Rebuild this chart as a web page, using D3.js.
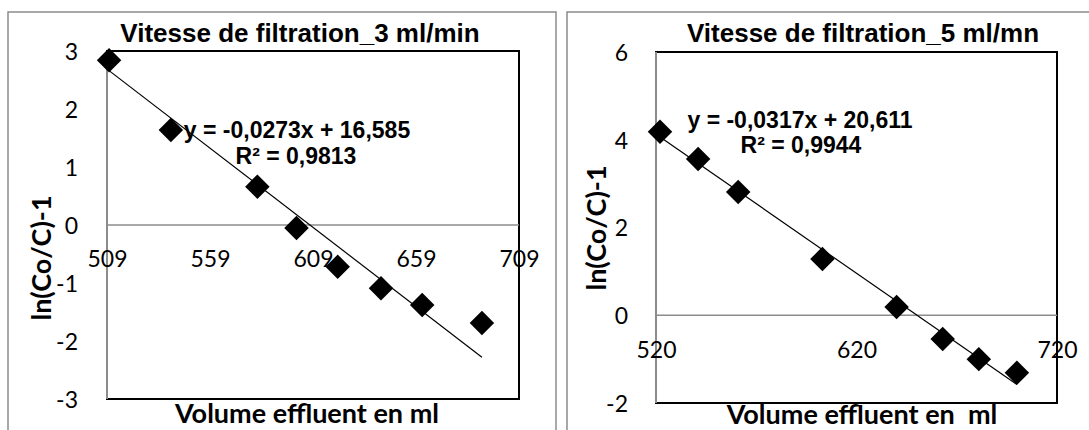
<!DOCTYPE html>
<html>
<head>
<meta charset="utf-8">
<script src="https://cdn.jsdelivr.net/npm/d3@7"></script>
<style>
  html, body { margin: 0; padding: 0; background: #fff; }
  svg { display: block; }
</style>
</head>
<body>
<svg id="chart" width="1089" height="430"></svg>
<script>
// Breakthrough data: volume of effluent (ml) vs ln(Co/C)-1
const volume3 = [510, 540, 582, 601, 621, 642, 662, 691];
const lnRatio3 = [2.84, 1.64, 0.66, -0.05, -0.72, -1.09, -1.38, -1.69];
const xTicks3 = [509, 559, 609, 659, 709];
const yTicks3 = [-3, -2, -1, 0, 1, 2, 3];
const fit3 = { slope: -0.0273, intercept: 16.585, r2: "0,9813" };

const volume5 = [522, 541, 561, 603, 640, 663, 681, 700];
const lnRatio5 = [4.18, 3.56, 2.81, 1.28, 0.19, -0.54, -1.0, -1.31];
const xTicks5 = [520, 620, 720];
const yTicks5 = [-2, 0, 2, 4, 6];
const fit5 = { slope: -0.0317, intercept: 20.611, r2: "0,9944" };

const titles = ["Vitesse de filtration_3 ml/min", "Vitesse de filtration_5 ml/mn"];
const xTitles = ["Volume effluent en ml", "Volume effluent en\u00a0 ml"];
const yTitle = "ln(Co/C)-1";

const svg = d3.select("#chart");
const tickFont = "Lato, 'Open Sans', sans-serif";
const boldFont = "'Liberation Sans', Arial, sans-serif";

function fmt(v, d) {
  return Math.abs(v).toFixed(d).replace(".", ",");
}

function drawChart(cfg) {
  const g = svg.append("g");

  // outer chart border
  g.append("rect")
    .attr("x", cfg.box[0]).attr("y", cfg.box[1])
    .attr("width", cfg.box[2]).attr("height", cfg.box[3])
    .attr("fill", "#fff").attr("stroke", "#8c8c8c").attr("stroke-width", 1.5);

  const x = d3.scaleLinear().domain(cfg.xDomain).range([cfg.plot.left, cfg.plot.right]);
  const y = d3.scaleLinear().domain(cfg.yDomain).range([cfg.plot.bottom, cfg.plot.top]);

  // plot frame
  g.append("rect")
    .attr("x", cfg.plot.left).attr("y", cfg.plot.top)
    .attr("width", cfg.plot.right - cfg.plot.left)
    .attr("height", cfg.plot.bottom - cfg.plot.top)
    .attr("fill", "none").attr("stroke", "#000").attr("stroke-width", 2);

  // vertical value axis line
  g.append("line")
    .attr("x1", cfg.plot.left).attr("x2", cfg.plot.left)
    .attr("y1", cfg.plot.top).attr("y2", cfg.plot.bottom)
    .attr("stroke", "#8c8c8c").attr("stroke-width", 2);

  // horizontal axis crossing at zero
  g.append("line")
    .attr("x1", cfg.plot.left).attr("x2", cfg.plot.right)
    .attr("y1", y(0)).attr("y2", y(0))
    .attr("stroke", "#8c8c8c").attr("stroke-width", 1.5);

  // y tick labels
  const yAxis = g.append("g")
    .attr("transform", `translate(${cfg.plot.left},0)`)
    .call(d3.axisLeft(y).tickValues(cfg.yTicks).tickSize(0).tickPadding(cfg.yPad).tickFormat(d => String(d)));
  yAxis.select(".domain").remove();
  yAxis.selectAll("text")
    .attr("font-family", tickFont).attr("font-size", 23).attr("fill", "#000")
    .attr("dy", "0.36em");

  // x tick labels hang below the zero line
  const xAxis = g.append("g")
    .attr("transform", `translate(0,${y(0)})`)
    .call(d3.axisBottom(x).tickValues(cfg.xTicks).tickSize(0).tickPadding(26).tickFormat(d => String(d)));
  xAxis.select(".domain").remove();
  xAxis.selectAll("text")
    .attr("font-family", tickFont).attr("font-size", 23).attr("fill", "#000");

  // linear trend line over the data range
  const x0 = d3.min(cfg.xs), x1 = d3.max(cfg.xs);
  g.append("line")
    .attr("x1", x(x0)).attr("y1", y(cfg.fit.slope * x0 + cfg.fit.intercept))
    .attr("x2", x(x1)).attr("y2", y(cfg.fit.slope * x1 + cfg.fit.intercept))
    .attr("stroke", "#000").attr("stroke-width", 1.2);

  // diamond markers
  const diamond = d3.symbol().type(d3.symbolSquare).size(300);
  g.selectAll("path.pt")
    .data(cfg.xs.map((v, i) => [v, cfg.ys[i]]))
    .join("path")
    .attr("class", "pt")
    .attr("d", diamond)
    .attr("transform", d => `translate(${x(d[0])},${y(d[1])}) rotate(45)`)
    .attr("fill", "#000");

  // trend equation and R²
  const eq = `y = -${fmt(cfg.fit.slope, 4)}x + ${fmt(cfg.fit.intercept, 3)}`;
  g.append("text")
    .attr("x", cfg.eqPos[0]).attr("y", cfg.eqPos[1])
    .attr("text-anchor", "middle")
    .attr("font-family", boldFont).attr("font-weight", "bold").attr("font-size", 23)
    .text(eq);
  g.append("text")
    .attr("x", cfg.r2Pos[0]).attr("y", cfg.r2Pos[1])
    .attr("text-anchor", "middle")
    .attr("font-family", boldFont).attr("font-weight", "bold").attr("font-size", 23)
    .text(`R² = ${cfg.fit.r2}`);

  // chart title
  g.append("text")
    .attr("x", cfg.titlePos[0]).attr("y", cfg.titlePos[1])
    .attr("text-anchor", "middle")
    .attr("font-family", boldFont).attr("font-weight", "bold").attr("font-size", 26)
    .text(cfg.title);

  // axis titles
  g.append("text")
    .attr("x", cfg.xTitlePos[0]).attr("y", cfg.xTitlePos[1])
    .attr("text-anchor", "middle")
    .attr("font-family", tickFont).attr("font-weight", "bold").attr("font-size", 27)
    .text(cfg.xTitle);
  g.append("text")
    .attr("transform", `translate(${cfg.yTitlePos[0]},${cfg.yTitlePos[1]}) rotate(-90)`)
    .attr("text-anchor", "middle")
    .attr("font-family", tickFont).attr("font-weight", "bold").attr("font-size", 27)
    .text(yTitle);
}

drawChart({
  box: [8, 12, 548, 430],
  plot: { left: 107, right: 519, top: 51, bottom: 399 },
  xDomain: [509, 709], yDomain: [-3, 3],
  xs: volume3, ys: lnRatio3, xTicks: xTicks3, yTicks: yTicks3, fit: fit3,
  yPad: 29,
  eqPos: [297, 138], r2Pos: [296, 164],
  title: titles[0], titlePos: [300, 42],
  xTitle: xTitles[0], xTitlePos: [307, 423],
  yTitlePos: [51, 258]
});

drawChart({
  box: [567, 12, 540, 430],
  plot: { left: 656, right: 1057, top: 52, bottom: 403 },
  xDomain: [520, 720], yDomain: [-2, 6],
  xs: volume5, ys: lnRatio5, xTicks: xTicks5, yTicks: yTicks5, fit: fit5,
  yPad: 28,
  eqPos: [800, 128], r2Pos: [801, 153],
  title: titles[1], titlePos: [863, 42],
  xTitle: xTitles[1], xTitlePos: [862, 424],
  yTitlePos: [606, 228]
});
</script>
</body>
</html>
